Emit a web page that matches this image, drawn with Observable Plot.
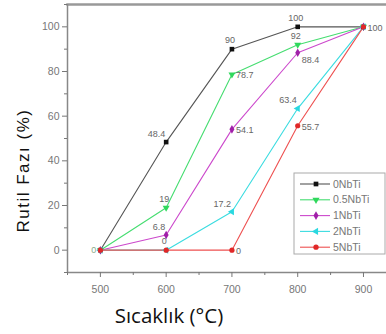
<!DOCTYPE html>
<html><head><meta charset="utf-8">
<script src="https://cdn.jsdelivr.net/npm/d3@7"></script>
<script src="https://cdn.jsdelivr.net/npm/@observablehq/plot@0.6"></script>
<style>body{margin:0;background:#fff;font-family:Arial,"Liberation Sans",sans-serif}</style>
</head><body><div id="chart"></div>
<script>
const temps = [500, 600, 700, 800, 900];
const seriesNames = ["0NbTi", "0.5NbTi", "1NbTi", "2NbTi", "5NbTi"];
const s0 = [0, 48.4, 90, 100, 100];
const s05 = [0, 19, 78.7, 92, 100];
const s1 = [0, 6.8, 54.1, 88.4, 100];
const s2 = [0, 0, 17.2, 63.4, 100];
const s5 = [0, 0, 0, 55.7, 100];
const seriesValues = [s0, s05, s1, s2, s5];
const lineColors = ["#555555", "#45dd70", "#cc48cc", "#3adce0", "#ee5050"];
const dotColors = ["#111111", "#2fd85c", "#a020a8", "#2ad8e0", "#e02828"];
const symbols = ["square", "triangle", "diamond", "triangle", "circle"];
const rotations = [0, 180, 0, -90, 0];
const xTicks = [500, 600, 700, 800, 900];
const yTicks = [0, 20, 40, 60, 80, 100];
const xMinor = [450, 550, 650, 750, 850];
const yMinor = [-10, 10, 30, 50, 70, 90, 110];
const xTitle = "Sıcaklık (°C)";
const yTitle = "Rutil Fazı (%)";
// label groups: [seriesIndex, pointIndex]
const labAbove = [[0,2],[0,3],[1,3],[1,1],[4,1]];
const labLeftAbove = [[0,1],[2,1],[3,3],[3,2]];
const labRight = [[1,2],[2,2],[4,3],[4,2],[4,4]];
const labRightBelow = [[2,3]];
const labLeft = [[1,0]];

const rows = [];
seriesValues.forEach((vals, i) => vals.forEach((v, j) => rows.push({s: seriesNames[i], si: i, x: temps[j], y: v})));
const lab = g => g.map(([i, j]) => ({x: temps[j], y: seriesValues[i][j], t: String(seriesValues[i][j])}));

const labStyle = {x: "x", y: "y", text: "t", fill: "#666", fontSize: 9};
const plot = Plot.plot({
  width: 386, height: 334,
  marginLeft: 67, marginRight: 0, marginTop: 4, marginBottom: 62,
  style: {fontFamily: "Arial, 'Liberation Sans', sans-serif", background: "#fff"},
  x: {domain: [450, 935]},
  y: {domain: [-10, 110]},
  color: {domain: seriesNames, range: lineColors},
  symbol: {domain: seriesNames, range: symbols},
  marks: [
    Plot.frame({anchor: "top", stroke: "#999", strokeWidth: 2.5}),
    Plot.ruleX([450], {stroke: "#888", strokeWidth: 1.5}),
    Plot.ruleY([-10], {stroke: "#888", strokeWidth: 1.5}),
    Plot.axisX({ticks: xTicks, tickSize: 5, stroke: "#777", tickPadding: 8, fill: "#777", fontSize: 10.5, label: null}),
    Plot.axisX({ticks: xMinor, tickSize: 3, stroke: "#777", tickFormat: () => "", label: null}),
    Plot.axisY({ticks: yTicks, tickSize: 5, stroke: "#777", tickPadding: 3, fill: "#777", fontSize: 10.5, label: null}),
    Plot.axisY({ticks: yMinor, tickSize: 3, stroke: "#777", tickFormat: () => "", label: null}),
    Plot.line(rows, {x: "x", y: "y", z: "s", stroke: "s", strokeWidth: 1.1}),
    Plot.dot(rows, {x: "x", y: "y", symbol: "s", fill: d => dotColors[d.si], r: 2.6, rotate: d => rotations[d.si]}),
    Plot.text(lab(labAbove), {...labStyle, dy: -9, dx: -2}),
    Plot.text(lab(labLeftAbove), {...labStyle, textAnchor: "end", dx: -1, dy: -8}),
    Plot.text(lab(labRight), {...labStyle, textAnchor: "start", dx: 4, dy: 1}),
    Plot.text(lab(labRightBelow), {...labStyle, textAnchor: "start", dx: 4, dy: 7}),
    Plot.text(lab(labLeft), {...labStyle, textAnchor: "end", dx: -4, fill: "#8a8"}),
    Plot.text([xTitle], {frameAnchor: "bottom", dx: -58, dy: 50, lineAnchor: "bottom", fontSize: 20.5, fill: "#111", fontFamily: "'Open Sans', sans-serif"}),
    Plot.text([yTitle], {frameAnchor: "bottom-left", textAnchor: "start", rotate: -90, dx: -39, dy: -40, fontSize: 17, fill: "#111", fontFamily: "Arial, 'Liberation Sans', sans-serif"})
  ]
});
document.getElementById("chart").appendChild(plot);

const svg = d3.select(plot);
svg.selectAll("text").filter(function() { return this.textContent === yTitle; }).style("letter-spacing", "1.5px");

// legend inside the plot area
const lg = svg.append("g").attr("transform", "translate(294,173)").attr("text-anchor", "start");
lg.append("rect").attr("width", 91).attr("height", 81).attr("fill", "#fff").attr("stroke", "#aaa").attr("stroke-width", 1);
const symMap = {square: d3.symbolSquare, triangle: d3.symbolTriangle, diamond: d3.symbolDiamond, circle: d3.symbolCircle};
seriesNames.forEach((name, i) => {
  const yy = 11 + i * 15.8;
  const row = lg.append("g").attr("transform", `translate(0,${yy})`);
  row.append("line").attr("x1", 6).attr("x2", 36).attr("y1", 0).attr("y2", 0).attr("stroke", lineColors[i]).attr("stroke-width", 1.1);
  row.append("path").attr("d", d3.symbol(symMap[symbols[i]], 22)()).attr("transform", `translate(22,0) rotate(${rotations[i]})`).attr("fill", dotColors[i]);
  row.append("text").attr("x", 39).attr("y", 0).attr("dy", "0.35em").attr("font-size", 10.5).attr("fill", "#777").attr("text-anchor", "start").text(name);
});
</script>
</body></html>
